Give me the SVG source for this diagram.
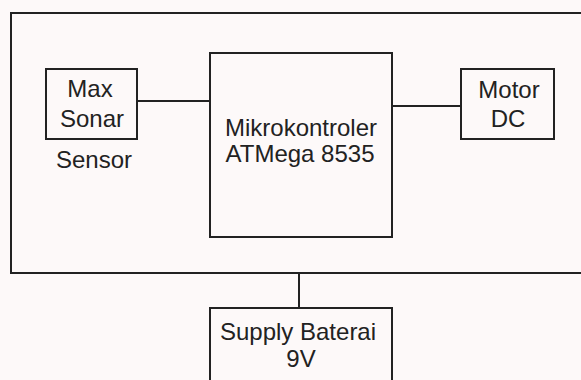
<svg xmlns="http://www.w3.org/2000/svg" width="581" height="380" viewBox="0 0 581 380">
<style>
.box{fill:none;stroke:#222;stroke-width:2}
.ln{stroke:#222;stroke-width:2;fill:none}
text{font-family:"Liberation Sans",Arial,sans-serif;font-size:24px;fill:#222;text-anchor:middle}
</style>
<rect x="0" y="0" width="581" height="380" fill="#fdf9f9"/>
<g id="system">
<rect class="box" x="11" y="13" width="580" height="260"/>
</g>
<g id="connectors">
<line class="ln" x1="137" y1="101" x2="210" y2="101"/>
<line class="ln" x1="392" y1="106" x2="461" y2="106"/>
<line class="ln" x1="299" y1="273" x2="299" y2="308"/>
</g>
<g id="maxsonar">
<rect class="box" x="46" y="69" width="91" height="70"/>
<text x="90" y="97">Max</text>
<text x="92" y="127">Sonar</text>
<text x="94" y="168">Sensor</text>
</g>
<g id="mikrokontroler">
<rect class="box" x="210" y="53" width="182" height="184"/>
<text x="301" y="136">Mikrokontroler</text>
<text x="300" y="162">ATMega 8535</text>
</g>
<g id="motordc">
<rect class="box" x="461" y="69" width="93" height="70"/>
<text x="509" y="98">Motor</text>
<text x="508" y="127">DC</text>
</g>
<g id="supply">
<rect class="box" x="210" y="308" width="182" height="80"/>
<text x="298" y="340">Supply Baterai</text>
<text x="301" y="367">9V</text>
</g>
</svg>
